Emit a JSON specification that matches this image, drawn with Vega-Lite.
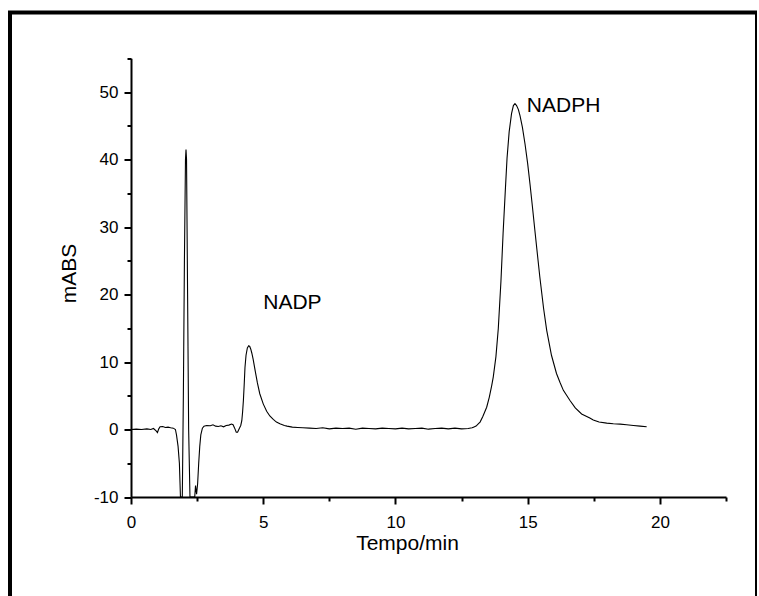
{
  "$schema": "https://vega.github.io/schema/vega-lite/v6.json",
  "autosize": {"type": "none"},
  "padding": {"left": 10, "top": 12.5, "right": 0, "bottom": 0},
  "width": 747,
  "height": 600,
  "background": "white",
  "config": {
    "font": "Liberation Sans",
    "view": {"stroke": "black", "strokeWidth": 4},
    "axis": {"grid": false, "domainColor": "black", "domainWidth": 2, "tickColor": "black", "tickWidth": 2, "labelColor": "black", "titleColor": "black", "labelFont": "Liberation Sans", "titleFont": "Liberation Sans", "labelFontSize": 17, "titleFontSize": 21, "titleFontWeight": "normal", "labelOverlap": false, "labelFlush": false, "labelBound": false}
  },
  "layer": [
    {
      "data": {"values": [
        {"t":0,"v":0.0},{"t":0.2,"v":0.05},{"t":0.4,"v":0.0},{"t":0.6,"v":0.1},{"t":0.75,"v":0.0},{"t":0.85,"v":0.15},{"t":0.95,"v":-0.2},{"t":1.0,"v":-0.45},{"t":1.05,"v":0.1},{"t":1.1,"v":0.4},{"t":1.2,"v":0.45},{"t":1.3,"v":0.3},{"t":1.4,"v":0.35},{"t":1.5,"v":0.25},{"t":1.6,"v":0.2},{"t":1.68,"v":0.0},{"t":1.72,"v":-0.8},{"t":1.78,"v":-2.5},{"t":1.83,"v":-5},{"t":1.87,"v":-10},{"t":1.9,"v":-30},{"t":1.92,"v":-30},{"t":1.94,"v":-10},{"t":1.98,"v":5},{"t":2.02,"v":25},{"t":2.06,"v":40},{"t":2.08,"v":41.5},{"t":2.1,"v":40},{"t":2.14,"v":20},{"t":2.18,"v":0},{"t":2.23,"v":-10},{"t":2.27,"v":-30},{"t":2.38,"v":-30},{"t":2.41,"v":-10},{"t":2.44,"v":-8.3},{"t":2.48,"v":-9.6},{"t":2.52,"v":-8},{"t":2.56,"v":-5},{"t":2.6,"v":-2.5},{"t":2.64,"v":-0.8},{"t":2.7,"v":0.2},{"t":2.76,"v":0.5},{"t":2.86,"v":0.6},{"t":3.0,"v":0.55},{"t":3.1,"v":0.7},{"t":3.2,"v":0.5},{"t":3.3,"v":0.45},{"t":3.4,"v":0.55},{"t":3.5,"v":0.4},{"t":3.6,"v":0.6},{"t":3.7,"v":0.65},{"t":3.8,"v":0.8},{"t":3.86,"v":0.7},{"t":3.92,"v":0.2},{"t":3.98,"v":-0.4},{"t":4.03,"v":-0.4},{"t":4.1,"v":0.2},{"t":4.15,"v":0.6},{"t":4.19,"v":1.3},{"t":4.22,"v":2.6},{"t":4.25,"v":4.3},{"t":4.28,"v":6.6},{"t":4.31,"v":9.2},{"t":4.35,"v":11.0},{"t":4.4,"v":12.1},{"t":4.45,"v":12.4},{"t":4.49,"v":12.3},{"t":4.53,"v":11.9},{"t":4.57,"v":11.3},{"t":4.62,"v":10.4},{"t":4.7,"v":8.6},{"t":4.78,"v":6.9},{"t":4.87,"v":5.3},{"t":5.0,"v":3.8},{"t":5.13,"v":2.7},{"t":5.25,"v":2.0},{"t":5.38,"v":1.5},{"t":5.5,"v":1.1},{"t":5.63,"v":0.85},{"t":5.8,"v":0.6},{"t":5.9,"v":0.5},{"t":6.1,"v":0.35},{"t":6.3,"v":0.3},{"t":6.5,"v":0.25},{"t":6.75,"v":0.2},{"t":7.0,"v":0.15},{"t":7.25,"v":0.25},{"t":7.5,"v":0.1},{"t":7.75,"v":0.2},{"t":8.0,"v":0.15},{"t":8.25,"v":0.2},{"t":8.5,"v":0.05},{"t":8.75,"v":0.2},{"t":9.0,"v":0.15},{"t":9.25,"v":0.1},{"t":9.5,"v":0.2},{"t":9.75,"v":0.15},{"t":10.0,"v":0.1},{"t":10.25,"v":0.2},{"t":10.5,"v":0.1},{"t":10.75,"v":0.15},{"t":11.0,"v":0.2},{"t":11.25,"v":0.05},{"t":11.5,"v":0.15},{"t":11.75,"v":0.2},{"t":12.0,"v":0.1},{"t":12.25,"v":0.2},{"t":12.5,"v":0.1},{"t":12.75,"v":0.15},{"t":12.9,"v":0.25},{"t":12.95,"v":0.35},{"t":13.05,"v":0.5},{"t":13.15,"v":0.9},{"t":13.2,"v":1.1},{"t":13.3,"v":1.9},{"t":13.45,"v":3.3},{"t":13.55,"v":4.8},{"t":13.64,"v":6.5},{"t":13.7,"v":7.8},{"t":13.8,"v":10.8},{"t":13.89,"v":15.0},{"t":13.99,"v":22.0},{"t":14.07,"v":29.0},{"t":14.16,"v":35.8},{"t":14.22,"v":40.2},{"t":14.3,"v":44.1},{"t":14.39,"v":46.8},{"t":14.46,"v":48.0},{"t":14.52,"v":48.3},{"t":14.58,"v":48.0},{"t":14.65,"v":47.4},{"t":14.71,"v":46.5},{"t":14.8,"v":44.8},{"t":14.9,"v":42.3},{"t":15.0,"v":39.4},{"t":15.09,"v":36.3},{"t":15.18,"v":33.0},{"t":15.27,"v":29.6},{"t":15.37,"v":25.9},{"t":15.46,"v":22.6},{"t":15.6,"v":18.0},{"t":15.72,"v":14.7},{"t":15.9,"v":11.0},{"t":16.09,"v":8.3},{"t":16.22,"v":7.0},{"t":16.35,"v":5.8},{"t":16.6,"v":4.3},{"t":16.8,"v":3.2},{"t":17.04,"v":2.3},{"t":17.35,"v":1.7},{"t":17.48,"v":1.4},{"t":17.7,"v":1.1},{"t":17.99,"v":0.95},{"t":18.24,"v":0.85},{"t":18.5,"v":0.8},{"t":18.74,"v":0.7},{"t":19.0,"v":0.6},{"t":19.25,"v":0.5},{"t":19.5,"v":0.4}
      ]},
      "mark": {"type": "line", "color": "black", "strokeWidth": 1.1},
      "encoding": {
        "x": {"field": "t", "type": "quantitative",
          "scale": {"domain": [0, 22.5], "range": [121, 716], "nice": false, "zero": false},
          "axis": {"title": "Tempo/min", "offset": -115.5, "orient": "bottom",
            "values": [0,2.5,5,7.5,10,12.5,15,17.5,20,22.5],
            "labelExpr": "datum.value % 5 === 0 ? '' + datum.value : ''",
            "tickSize": {"condition": {"test": "datum.value % 5 === 0", "value": 7}, "value": 4},
            "labelPadding": 10,
            "titleX": 397, "titleY": 52, "titleAlign": "center", "titleBaseline": "alphabetic", "titleAnchor": null}},
        "y": {"field": "v", "type": "quantitative",
          "scale": {"domain": [-10, 55], "range": [484.5, 45.8], "nice": false, "zero": false, "clamp": true},
          "axis": {"title": "mABS", "offset": -121, "orient": "left",
            "values": [-10,-5,0,5,10,15,20,25,30,35,40,45,50,55],
            "labelExpr": "datum.value % 10 === 0 ? '' + datum.value : ''",
            "tickSize": {"condition": {"test": "datum.value % 10 === 0", "value": 7}, "value": 4},
            "labelPadding": 6,
            "titleX": -56, "titleY": 260.5, "titleAlign": "center", "titleBaseline": "alphabetic", "titleAngle": -90}}
      }
    },
    {
      "data": {"values": [
        {"t": 5.0, "v": 17.8, "label": "NADP"},
        {"t": 14.97, "v": 47.0, "label": "NADPH"}
      ]},
      "mark": {"type": "text", "align": "left", "baseline": "alphabetic", "fontSize": 21, "font": "Liberation Sans", "color": "black"},
      "encoding": {
        "x": {"field": "t", "type": "quantitative"},
        "y": {"field": "v", "type": "quantitative"},
        "text": {"field": "label"}
      }
    }
  ]
}
